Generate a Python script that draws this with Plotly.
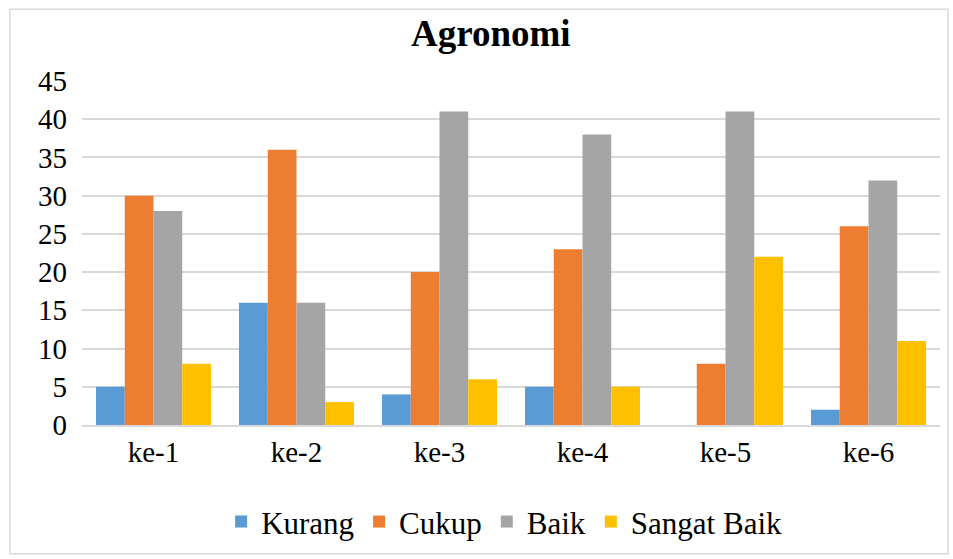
import plotly.graph_objects as go

categories = ["ke-1", "ke-2", "ke-3", "ke-4", "ke-5", "ke-6"]
kurang = [5, 16, 4, 5, 0, 2]
cukup = [30, 36, 20, 23, 8, 26]
baik = [28, 16, 41, 38, 41, 32]
sangat_baik = [8, 3, 6, 5, 22, 11]
series_names = ["Kurang", "Cukup", "Baik", "Sangat Baik"]
colors = ["#5B9BD5", "#ED7D31", "#A5A5A5", "#FFC000"]

FONT = "Liberation Serif"

fig = go.Figure()
for name, vals, col in zip(series_names, [kurang, cukup, baik, sangat_baik], colors):
    fig.add_trace(go.Bar(x=categories, y=vals, name=name, marker=dict(color=col, line=dict(width=0))))

fig.update_layout(
    width=953, height=559,
    margin=dict(l=82, r=13, t=81, b=133),
    paper_bgcolor="white", plot_bgcolor="white",
    barmode="group", bargap=0.196, bargroupgap=0,
    title=dict(text="<b>Agronomi</b>", x=0.515, xanchor="center", y=0.941, yanchor="middle",
               font=dict(family=FONT, size=37, color="#000000")),
    font=dict(family=FONT, size=29, color="#000000"),
    legend=dict(orientation="h", x=0.492, xanchor="center", y=-0.278, yanchor="middle",
                font=dict(family=FONT, size=31, color="#000000"), itemwidth=30,
                traceorder="normal"),
    xaxis=dict(showgrid=False, showline=True, linecolor="#D9D9D9", linewidth=1.5,
               ticks="", tickfont=dict(family=FONT, size=29)),
    yaxis=dict(range=[0, 45], dtick=5, showgrid=True, gridcolor="#D9D9D9", gridwidth=1.5,
               zeroline=False, showline=False, ticks="", ticklabelstandoff=14,
               tickfont=dict(family=FONT, size=29)),
    shapes=[dict(type="rect", xref="paper", yref="paper", x0=-0.0839, x1=1.0093,
                 y0=-0.374, y1=1.2087, line=dict(color="#D9D9D9", width=1.5), layer="below")],
)

fig.write_html("out.html", config={"displayModeBar": False},
               post_script="document.body.style.margin='0';")
